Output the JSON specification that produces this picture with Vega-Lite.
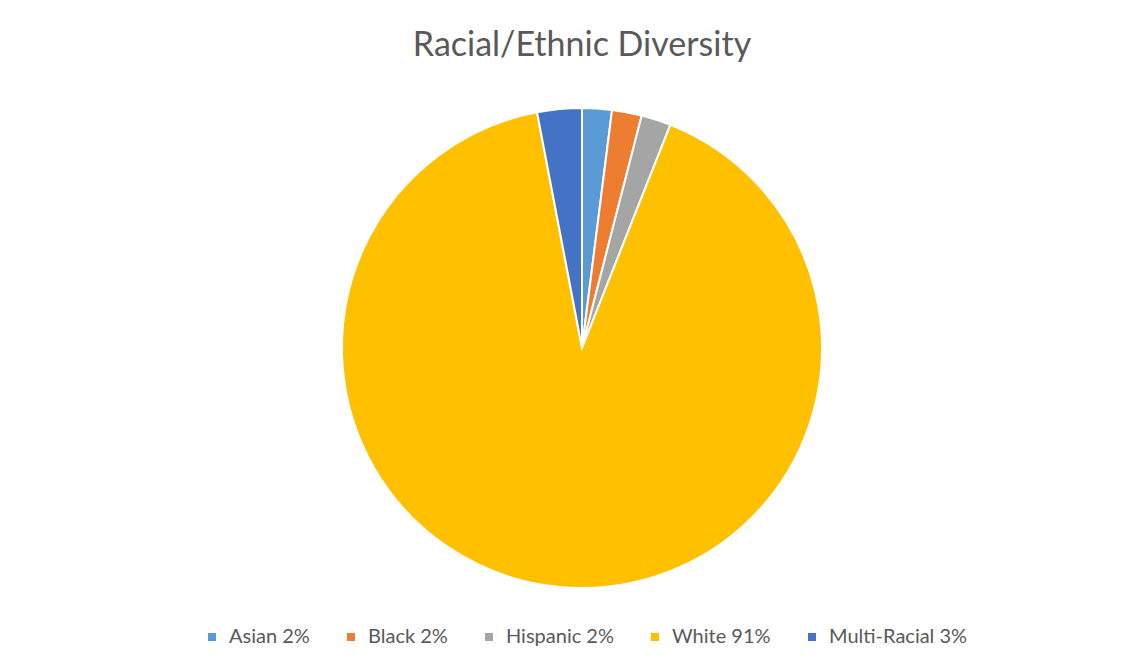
{
  "$schema": "https://vega.github.io/schema/vega-lite/v6.json",
  "width": 480,
  "height": 480,
  "autosize": {"type": "none"},
  "padding": {"left": 342, "top": 108, "right": 324, "bottom": 81},
  "background": "white",
  "title": {
    "text": "Racial/Ethnic Diversity",
    "font": "Lato",
    "fontSize": 34,
    "fontWeight": "normal",
    "color": "#595959",
    "anchor": "middle",
    "offset": 41
  },
  "data": {
    "values": [
      {"group": "Asian 2%", "value": 2, "order": 1},
      {"group": "Black 2%", "value": 2, "order": 2},
      {"group": "Hispanic 2%", "value": 2, "order": 3},
      {"group": "White 91%", "value": 91, "order": 4},
      {"group": "Multi-Racial 3%", "value": 3, "order": 5}
    ]
  },
  "mark": {"type": "arc", "stroke": "white", "strokeWidth": 2},
  "encoding": {
    "theta": {"field": "value", "type": "quantitative", "stack": true},
    "order": {"field": "order", "type": "quantitative"},
    "color": {
      "field": "group",
      "type": "nominal",
      "scale": {
        "domain": ["Asian 2%", "Black 2%", "Hispanic 2%", "White 91%", "Multi-Racial 3%"],
        "range": ["#5B9BD5", "#ED7D31", "#A5A5A5", "#FFC000", "#4472C4"]
      },
      "legend": {
        "title": null,
        "orient": "none",
        "direction": "horizontal",
        "legendX": -140,
        "legendY": 519,
        "symbolType": "square",
        "symbolSize": 64,
        "symbolStrokeWidth": 0,
        "labelFont": "Lato",
        "labelFontSize": 20,
        "labelColor": "#595959",
        "labelOffset": 7,
        "columnPadding": 31,
        "labelLimit": 300
      }
    }
  },
  "config": {"view": {"stroke": null}}
}
